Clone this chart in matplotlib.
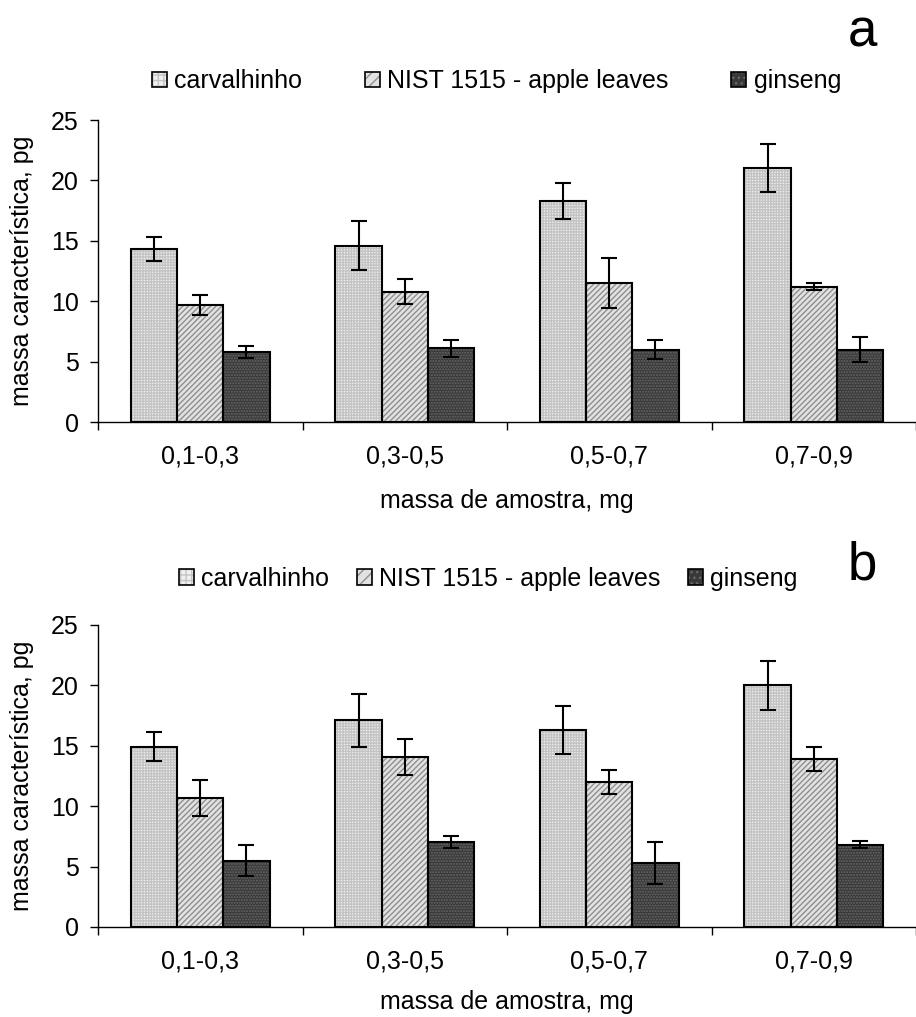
import matplotlib.pyplot as plt
import matplotlib as mpl
from matplotlib.legend_handler import HandlerTuple
import numpy as np

plt.rcParams['font.family'] = ['Liberation Sans', 'DejaVu Sans']

categories = ["0,1-0,3", "0,3-0,5", "0,5-0,7", "0,7-0,9"]
series_names = ["carvalhinho", "NIST 1515 - apple leaves", "ginseng"]

# panel a
a_carv = [14.3, 14.6, 18.3, 21.0]
a_carv_err = [1.0, 2.0, 1.5, 2.0]
a_nist = [9.7, 10.8, 11.5, 11.2]
a_nist_err = [0.8, 1.0, 2.1, 0.3]
a_gins = [5.8, 6.1, 6.0, 6.0]
a_gins_err = [0.5, 0.7, 0.8, 1.0]

# panel b
b_carv = [14.9, 17.1, 16.3, 20.0]
b_carv_err = [1.2, 2.2, 2.0, 2.0]
b_nist = [10.7, 14.1, 12.0, 13.9]
b_nist_err = [1.5, 1.5, 1.0, 1.0]
b_gins = [5.5, 7.0, 5.3, 6.8]
b_gins_err = [1.3, 0.5, 1.7, 0.3]

# fill colour, hatch colour, hatch pattern
styles = [
    ('#f0f0f0', '#c4c4c4', '++++++'),
    ('#e2e2e2', '#8f8f8f', '//////'),
    ('#383838', '#686868', '......'),
]

width = 0.226
FS = 18


def draw_panel(ax, values, errors, label, col_spacing, leg_x, leg_y, lab_y,
               xlab_pad):
    x = np.arange(len(categories))
    handles = []
    for i, (vals, errs) in enumerate(zip(values, errors)):
        fc, hc, hatch = styles[i]
        pos = x + (i - 1) * width
        # hatched fill first, black outline on top
        ax.bar(pos, vals, width, color=fc, edgecolor=hc, hatch=hatch,
               linewidth=0, zorder=2)
        ax.bar(pos, vals, width, facecolor='none', edgecolor='k',
               linewidth=1.5, zorder=3)
        ax.errorbar(pos, vals, yerr=errs, fmt='none', ecolor='k',
                    elinewidth=1.5, capsize=6, capthick=1.5, zorder=4)
        fill = mpl.patches.Patch(facecolor=fc, edgecolor=hc,
                                 hatch=hatch[:3], linewidth=0)
        edge = mpl.patches.Patch(facecolor='none', edgecolor='k',
                                 linewidth=1.2)
        handles.append((fill, edge))

    ax.set_xlim(-0.5, 3.5)
    ax.set_ylim(0, 25)
    ax.set_yticks(np.arange(0, 26, 5))
    ax.set_xticks(x)
    ax.set_xticklabels(categories)
    ax.set_xticks(np.arange(-0.5, 3.6, 1.0), minor=True)
    ax.tick_params(axis='x', which='major', length=0, pad=16, labelsize=FS)
    ax.tick_params(axis='x', which='minor', length=6, width=1)
    ax.tick_params(axis='y', length=6, width=1, pad=8, labelsize=FS)
    ax.spines['top'].set_visible(False)
    ax.spines['right'].set_visible(False)
    ax.spines['left'].set_linewidth(1)
    ax.spines['bottom'].set_linewidth(1)
    ax.set_xlabel("massa de amostra, mg", fontsize=FS, labelpad=xlab_pad)
    ax.set_ylabel("massa característica, pg", fontsize=FS, labelpad=12)

    ax.legend(handles, series_names, ncol=3, loc='center',
              bbox_to_anchor=(leg_x, leg_y), frameon=False, fontsize=FS,
              handler_map={tuple: HandlerTuple(ndivide=1, pad=0)},
              handlelength=0.6, handleheight=0.6, handletextpad=0.3,
              columnspacing=col_spacing, borderpad=0)
    ax.text(0.935, lab_y, label, transform=ax.transAxes, fontsize=38,
            ha='center', va='baseline')


fig = plt.figure(figsize=(9.16, 10.17), dpi=100)
ax_a = fig.add_axes([0.107, 0.585, 0.893, 0.297])
ax_b = fig.add_axes([0.107, 0.0885, 0.893, 0.297])

draw_panel(ax_a, [a_carv, a_nist, a_gins],
           [a_carv_err, a_nist_err, a_gins_err], 'a', 2.5,
           0.487, 1.128, 1.242, 15)
draw_panel(ax_b, [b_carv, b_nist, b_gins],
           [b_carv_err, b_nist_err, b_gins_err], 'b', 1.1,
           0.477, 1.152, 1.149, 12)

plt.savefig('out.png', dpi=100)
